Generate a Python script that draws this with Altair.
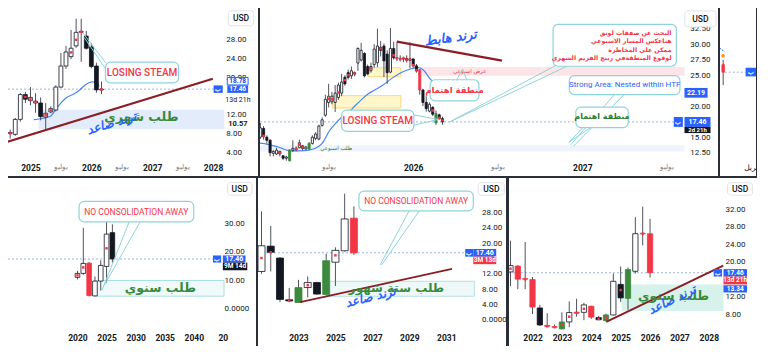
import json
import altair as alt
import pandas as pd

# ---------------- styles ----------------
FONT = "Roboto"
AR = "DejaVu Sans"
RED = "#f23645"
BLUE = "#2962ff"
GREEN = "#2e7d32"
TEAL = "#8fd3dc"
TREND = "#8b1e24"
EMA_C = "#4a86f5"
PLINE = "#9db3ea"
KEYS = ["w", "b", "r", "g"]
FILLS = ["#ffffff", "#131722", "#f23645", "#3b8a3e"]
STROKES = ["#131722", "#131722", "#f23645", "#3b8a3e"]
LAST = 17.46

# ================= DATA =================
# ---- Panel A : monthly ----
A_T = list(range(-4, 15))
A_O = [8.0, 7.8, 11.0, 16.3, 15.0, 14.5, 14.5, 11.5, 12.6, 13.0, 17.9, 22.4, 24.4, 26.7, 29.6, 28.8, 26.5, 22.4, 17.3]
A_H = [8.8, 11.3, 16.6, 16.9, 17.9, 16.6, 15.7, 14.5, 13.8, 18.3, 25.2, 26.7, 30.1, 32.5, 32.5, 29.9, 27.3, 23.1, 19.1]
A_L = [6.9, 7.5, 10.5, 14.5, 14.0, 12.4, 10.8, 8.7, 12.3, 12.7, 17.8, 21.8, 23.9, 26.3, 23.3, 25.9, 21.9, 16.7, 16.4]
A_C = [8.2, 11.0, 16.3, 15.3, 15.7, 14.9, 11.6, 12.3, 13.3, 17.9, 22.4, 25.4, 26.2, 29.6, 29.8, 26.2, 22.3, 17.3, 17.46]
A_K = ["w", "w", "w", "b", "w", "w", "b", "w", "w", "w", "w", "w", "w", "w", "w", "b", "b", "b", "w"]
A_D = [8.0, None, None, 15.8, 15.3, 14.7, None, 11.9, 12.9, None, None, None, 25.3, 28.0, 29.7, None, None, None, 17.4]
A_EMA_T = [0.65, 1.9, 3.85, 5.1, 6.1, 7.07, 8.35, 9.6, 10.9, 12.2, 13.2, 13.5]
A_EMA_V = [10.94, 11.14, 11.6, 13.28, 14.63, 15.64, 16.3, 17.19, 18.46, 19.0, 18.86, 18.0]
A_XT = [0, 6, 12, 18, 24, 30, 36]
A_XL = ["2025", "يوليو", "2026", "يوليو", "2027", "يوليو", "2028"]
A_XM = [6, 18, 30]
A_YT = [4, 8, 12, 20, 24, 28]

# ---- Panel B : weekly ----
B_T = list(range(-47, 10))
B_O = [15.0, 16.4, 15.0, 14.5, 12.4, 12.3, 12.7, 12.0, 11.6, 11.2, 12.9, 13.2, 13.3, 13.6, 13.1, 13.1, 14.0, 14.8, 14.7, 16.9,
       18.55, 20.6, 20.7, 20.6, 21.4, 22.1, 24.65, 25.4, 24.9, 25.4, 26.95, 27.45, 28.5, 26.4, 25.7, 26.7, 27.0, 29.5, 29.7, 28.4,
       25.5, 29.3, 27.8, 27.7, 27.6, 27.7, 27.4, 27.6, 26.5, 25.9, 22.6, 20.6, 19.2, 19.8, 17.3, 18.6, 18.0]
B_H = [17.3, 16.8, 15.3, 14.7, 12.9, 13.3, 12.8, 12.1, 12.0, 13.0, 14.5, 13.5, 14.6, 13.7, 13.6, 14.2, 15.3, 15.8, 17.0, 18.2,
       21.85, 23.6, 22.3, 23.4, 23.8, 25.2, 25.0, 25.9, 26.4, 25.6, 29.5, 30.2, 28.7, 26.7, 27.0, 30.0, 32.5, 30.5, 30.1, 29.0,
       32.6, 30.4, 30.4, 28.2, 28.0, 28.2, 30.3, 27.8, 26.8, 26.0, 22.8, 21.6, 20.6, 20.0, 19.3, 18.8, 18.3]
B_L = [14.7, 14.6, 14.0, 11.9, 11.9, 12.1, 11.9, 11.3, 11.2, 11.1, 12.6, 12.7, 13.2, 12.9, 13.0, 13.0, 13.8, 14.5, 14.5, 16.7,
       18.3, 19.8, 20.3, 19.05, 21.0, 21.6, 23.3, 24.3, 24.4, 24.8, 25.7, 27.2, 24.65, 25.0, 25.4, 26.2, 26.3, 28.0, 24.7, 23.6,
       25.3, 27.5, 27.3, 27.2, 27.1, 27.0, 26.1, 26.2, 25.4, 21.85, 20.0, 19.1, 19.0, 18.4, 17.0, 17.8, 17.0]
B_C = [16.5, 15.1, 14.5, 12.5, 12.7, 12.9, 12.3, 11.6, 11.8, 12.95, 13.2, 13.0, 14.1, 13.2, 13.4, 14.0, 15.0, 15.5, 16.8, 17.8,
       21.1, 21.6, 21.6, 22.1, 23.4, 23.9, 23.6, 24.65, 25.7, 25.2, 29.3, 29.0, 24.9, 25.2, 26.4, 29.2, 29.7, 29.0, 27.3, 25.4,
       29.3, 27.8, 27.7, 27.6, 27.7, 27.4, 27.6, 26.5, 25.7, 22.6, 20.6, 19.6, 20.3, 18.7, 18.8, 18.0, 17.46]
B_K = ["w", "b", "b", "b", "w", "w", "b", "b", "w", "g", "w", "b", "w", "b", "w", "g", "w", "w", "w", "w",
       "w", "w", "w", "w", "w", "w", "b", "b", "w", "b", "w", "w", "b", "b", "w", "w", "w", "b", "b", "b",
       "w", "b", "b", "b", "w", "b", "w", "b", "b", "r", "b", "b", "w", "b", "g", "b", "b"]
B_D = [None, 15.2, None, None, None, None, 12.5, None, None, None, None, 13.1, 13.8, 13.4, None, None, None, None, None, None,
       None, 21.2, 21.1, None, 22.2, None, 24.2, 25.0, None, 25.3, None, None, None, None, 26.1, None, None, 29.3, None, None,
       None, 28.2, 27.7, 27.6, 27.7, 27.5, 27.6, 26.6, 25.8, None, None, None, None, 19.3, None, 18.1, 17.7]
B_EMA_T = [-47.7, -44.7, -41.7, -37.8, -33.7, -30.7, -27.7, -25.8, -23.8, -21.8, -19.8, -17.8, -15.8, -13.8, -11.8, -9.3,
           -6.8, -3.8, -0.8, 1.7, 3.2, 5.2, 8.2, 9.8]
B_EMA_V = [14.06, 13.85, 13.45, 12.8, 12.84, 13.1, 14.2, 16.0, 17.27, 18.3, 19.05, 20.1, 21.1, 22.0, 22.6, 23.4,
           24.4, 25.4, 26.0, 26.2, 25.8, 24.4, 22.9, 22.2]
B_XT = [-26, 0, 26, 52, 78]
B_XL = ["يوليو", "2026", "يوليو", "2027", "يوليو"]
B_XM = [-26, 26, 78]
B_YT = [12.5, 15, 20, 25, 27.5, 30, 32.5]
B_BIG = ["البحث عن صفقات لونق", "هناعكس المسار الاسبوعي", "ممكن  على المخاطرة", "لوقوع المنطقةفي رينج الفريم الشهري"]
B_BIG_Y = [31.87, 30.5, 29.13, 27.8]

# ---- Panel C : narrow cut panel ----
C_T = [0]
C_O = [26.7]
C_H = [27.46]
C_L = [23.4]
C_C = [25.48]
C_K = ["r"]
C_D = [None]

# ---- Panel D : yearly ----
D_T = [2020, 2021, 2022, 2023, 2024, 2025, 2026]
D_O = [11.0, 12.4, 16.0, 4.5, 9.7, 14.85, 26.7]
D_H = [13.3, 28.4, 16.4, 11.3, 17.0, 32.8, 29.6]
D_L = [10.3, 11.9, 4.3, 4.3, 6.4, 9.1, 16.2]
D_C = [12.4, 15.9, 4.6, 9.7, 15.2, 26.2, 17.46]
D_K = ["w", "w", "r", "w", "w", "w", "b"]
D_D = [11.7, 14.5, None, None, None, 21.2, None]
D_XT = [2020, 2025, 2030, 2035, 2040, 2045]
D_XL = ["2020", "2025", "2030", "2035", "2040", "20"]
D_YT = [0, 10, 20, 30]

# ---- Panel E : six-month ----
E_T = [2021.0, 2021.5, 2022.0, 2022.5, 2023.0, 2023.5, 2024.0, 2024.5, 2025.0, 2025.5, 2026.0]
E_O = [12.6, 19.2, 16.1, 5.2, 4.5, 8.4, 9.7, 6.6, 15.0, 18.0, 26.5]
E_H = [28.3, 24.5, 16.3, 8.3, 10.4, 11.3, 9.9, 17.2, 18.9, 32.9, 29.6]
E_L = [12.0, 12.6, 4.6, 4.6, 4.4, 5.8, 6.5, 6.4, 8.8, 17.8, 16.9]
E_C = [19.3, 17.6, 5.3, 4.9, 8.4, 9.7, 6.7, 15.4, 18.1, 26.3, 17.46]
E_K = ["w", "b", "b", "b", "g", "w", "b", "g", "w", "w", "r"]
E_D = [16.1, 17.6, None, 5.0, None, 9.0, None, None, 16.8, None, None]
E_XT = [2023, 2025, 2027, 2029, 2031]
E_XL = ["2023", "2025", "2027", "2029", "2031"]
E_YT = [0, 4, 8, 12, 20, 24, 28]

# ---- Panel F : quarterly ----
F_T = [2021.25 + 0.25 * i for i in range(20)]
F_O = [17.65, 19.0, 16.1, 15.9, 9.4, 5.4, 5.1, 4.6, 6.2, 8.4, 8.4, 9.8, 7.2, 6.5, 7.8, 14.8, 11.6, 17.8, 26.4, 26.4]
F_H = [24.8, 19.2, 24.5, 16.5, 10.1, 8.2, 5.6, 8.4, 10.9, 11.5, 10.6, 9.9, 7.6, 8.1, 17.3, 18.9, 18.7, 30.2, 32.6, 29.8]
F_L = [14.4, 13.7, 13.7, 8.0, 5.3, 5.0, 4.8, 4.5, 5.0, 7.4, 6.6, 6.9, 6.6, 6.3, 7.7, 10.8, 9.0, 17.3, 23.7, 16.4]
F_C = [19.1, 16.0, 16.0, 9.6, 5.5, 5.2, 5.0, 6.2, 8.35, 8.2, 10.1, 7.3, 6.7, 7.8, 15.5, 11.7, 18.2, 26.4, 26.5, 17.46]
F_K = ["w", "r", "r", "r", "b", "r", "r", "g", "w", "r", "w", "r", "b", "g", "w", "b", "g", "w", "r", "r"]
F_D = [18.4, None, 16.0, None, None, 5.2, 5.0, 5.6, 7.4, 8.3, 9.2, None, 6.9, 7.2, None, 13.5, None, None, 26.4, None]
F_XT = [2022, 2023, 2024, 2025, 2026, 2027, 2028]
F_XL = ["2022", "2023", "2024", "2025", "2026", "2027", "2028"]
F_YT = [8, 12, 20, 24, 28, 32]


# ================= helpers =================
def S(dom):
    return alt.Scale(domain=dom, nice=False, zero=False)


def xaxis(vals, labels, months, off):
    expr = "%s[indexof(%s, datum.value)]" % (json.dumps(labels, ensure_ascii=False), json.dumps(vals))
    kw = dict(orient="bottom", values=vals, labelExpr=expr, offset=off, domain=False, ticks=False,
              grid=False, labelPadding=0, labelBaseline="top", labelFlush=False, labelOverlap=False,
              labelFont=FONT, title=None)
    if months:
        test = "indexof(%s, datum.value) >= 0" % json.dumps(months)
        kw["labelFontWeight"] = {"condition": {"test": test, "value": "normal"}, "value": "bold"}
        kw["labelFontSize"] = {"condition": {"test": test, "value": 6.5}, "value": 8.5}
        kw["labelColor"] = {"condition": {"test": test, "value": "#787b86"}, "value": "#131722"}
    else:
        kw["labelFontWeight"] = "bold"
        kw["labelFontSize"] = 8.5
        kw["labelColor"] = "#131722"
    return alt.Axis(**kw)


def yaxis(vals, off):
    return alt.Axis(orient="right", values=vals, offset=off,
                    labelExpr="datum.value == 0 ? '0.0000' : format(datum.value, '.2f')",
                    domain=False, ticks=False, grid=False, labelAlign="left", labelPadding=3,
                    labelFont=FONT, labelFontSize=8, labelColor="#131722", title=None,
                    labelFlush=False, labelOverlap=False)


class Panel:
    def __init__(self, xdom, ydom, W, H, axX=None, axY=None):
        self.sx, self.sy, self.W, self.H = S(xdom), S(ydom), W, H
        self.axX, self.axY = axX, axY
        self.layers = []

    def X(self, f):
        return alt.X(field=f, type="quantitative", scale=self.sx, axis=self.axX)

    def Y(self, f):
        return alt.Y(field=f, type="quantitative", scale=self.sy, axis=self.axY)

    def candles(self, t, O, H, L, C, k, d, hw, wick="#50535e"):
        df = pd.DataFrame(dict(t=t, O=O, H=H, L=L, C=C, k=k, d=d))
        base = alt.Chart(df)
        self.layers.append(base.mark_rule(color=wick, strokeWidth=1, clip=True).encode(
            x=self.X("t"), y=self.Y("L"), y2=alt.Y2("H")))
        self.layers.append(base.transform_calculate(
            xl="datum.t-%s" % hw, xr="datum.t+%s" % hw,
            lo="min(datum.O,datum.C)", hi="max(datum.O,datum.C)").mark_rect(strokeWidth=0.8, clip=True).encode(
            x=self.X("xl"), x2=alt.X2("xr"), y=self.Y("lo"), y2=alt.Y2("hi"),
            fill=alt.Fill("k:N", scale=alt.Scale(domain=KEYS, range=FILLS), legend=None),
            stroke=alt.Stroke("k:N", scale=alt.Scale(domain=KEYS, range=STROKES), legend=None)))
        self.layers.append(base.transform_filter("isValid(datum.d)").mark_square(
            size=6, color=RED, opacity=1, clip=True).encode(x=self.X("t"), y=self.Y("d")))

    def rects(self, x1, x2, y1, y2, **mk):
        df = pd.DataFrame(dict(a=x1, b=x2, c=y1, e=y2))
        self.layers.append(alt.Chart(df).mark_rect(clip=True, **mk).encode(
            x=self.X("a"), x2=alt.X2("b"), y=self.Y("c"), y2=alt.Y2("e")))

    def segs(self, x1, y1, x2, y2, **mk):
        df = pd.DataFrame(dict(a=x1, b=x2, c=y1, e=y2))
        self.layers.append(alt.Chart(df).mark_rule(clip=True, **mk).encode(
            x=self.X("a"), x2=alt.X2("b"), y=self.Y("c"), y2=alt.Y2("e")))

    def hline(self, x1, x2, y, **mk):
        df = pd.DataFrame(dict(a=x1, b=x2, c=y))
        self.layers.append(alt.Chart(df).mark_rule(clip=True, **mk).encode(
            x=self.X("a"), x2=alt.X2("b"), y=self.Y("c")))

    def line(self, xs, ys, **mk):
        df = pd.DataFrame(dict(a=xs, c=ys))
        self.layers.append(alt.Chart(df).mark_line(clip=True, **mk).encode(x=self.X("a"), y=self.Y("c")))

    def texts(self, xs, ys, ss, **mk):
        df = pd.DataFrame(dict(a=xs, c=ys, s=ss))
        self.layers.append(alt.Chart(df).mark_text(clip=True, **mk).encode(
            x=self.X("a"), y=self.Y("c"), text="s:N"))

    def callout(self, box, pointers, text_x, text_y, lines, **tmk):
        px1, py1, px2, py2 = pointers
        self.segs(px1, py1, px2, py2, color=TEAL, strokeWidth=1)
        self.rects([box[0]], [box[1]], [box[2]], [box[3]], fill="white", stroke=TEAL, strokeWidth=1.2, cornerRadius=5)
        self.texts(text_x, text_y, lines, **tmk)

    def tag(self, x1, x2, y1, y2, label, fill, color="white", stroke=None, size=7, weight="bold"):
        mk = dict(fill=fill)
        if stroke:
            mk.update(stroke=stroke, strokeWidth=1)
        self.rects([x1], [x2], [y1], [y2], **mk)
        self.texts([(x1 + x2) / 2], [(y1 + y2) / 2], [label], color=color, fontSize=size, font=FONT,
                   fontWeight=weight, align="center", baseline="middle")

    def usd(self, x1, x2, y1, y2):
        self.rects([x1], [x2], [y1], [y2], fill="white", stroke="#e0e3eb", strokeWidth=1, cornerRadius=3)
        self.texts([(x1 + x2) / 2], [(y1 + y2) / 2], ["USD"], color="#131722", fontSize=8.5, font=FONT,
                   fontWeight=500, align="center", baseline="middle")

    def chart(self):
        return alt.layer(*self.layers).properties(width=self.W, height=self.H)


# ================= Panel A =================
A = Panel([-4.43, 44.85], [-1.1, 34.8], 250, 168, xaxis(A_XT, A_XL, A_XM, -12.3), yaxis(A_YT, -35.2))
A.rects([1.6], [38.2], [8.9], [13.07], fill="#e3ecfb")
A.hline([-4.43], [36.1], [LAST], color=PLINE, strokeDash=[2, 2], strokeWidth=1)
A.line(A_EMA_T, A_EMA_V, color=EMA_C, strokeWidth=1.2, interpolate="monotone")
A.candles(A_T, A_O, A_H, A_L, A_C, A_K, A_D, 0.38)
A.segs([-4.49], [6.22], [35.95], [19.67], color=TREND, strokeWidth=2.2)
A.texts([21.85], [11.5], ["طلب شهري"], color="#3a8a3a", fontSize=12.5, font=AR, fontWeight="bold")
A.texts([16.0], [10.2], ["ترند صاعد"], color=BLUE, fontSize=12, font=AR, fontWeight="bold",
        fontStyle="italic", angle=343)
A.callout([14.78, 29.2, 18.8, 23.24], ([10.3, 10.6], [29.5, 28.5], [14.9, 14.8], [23.0, 21.8]),
          [22.0], [21.0], ["LOSING STEAM"], color=RED, fontSize=10, font=FONT, fontWeight=500)
A.tag(36.1, 37.9, 16.66, 18.26, "ب", BLUE, size=6)
A.tag(38.8, 42.9, 18.36, 19.96, "18.78", "white", color="#1848cc", stroke=BLUE, size=6.5)
A.tag(38.8, 42.9, 16.66, 18.26, "17.46", BLUE, size=6.5)
A.texts([40.9], [15.2], ["13d 21h"], color="#131722", fontSize=7, font=FONT, align="center")
A.texts([40.9], [10.57], ["10.57"], color="#131722", fontSize=7.5, font=FONT, fontWeight="bold",
        align="center", dy=3)
A.usd(39.0, 44.0, 31.0, 34.2)

# ================= Panel B =================
B = Panel([-47.1, 93.7], [8.74, 35.83], 458, 168, xaxis(B_XT, B_XL, B_XM, -12.3), yaxis(B_YT, -31.2))
B.rects([-47.7], [83.4], [12.7], [13.7], fill="#eef3fc")
B.rects([2.2], [83.4], [24.9], [26.3], fill="#fde4e6")
B.rects([-13.8, -24.8], [-3.8, -3.8], [24.75, 19.7], [26.2, 21.7], fill="#fff6cc", stroke="#f5dc7a", strokeWidth=1)
B.hline([-47.1], [80.1], [LAST], color=PLINE, strokeDash=[2, 2], strokeWidth=1)
B.line(B_EMA_T, B_EMA_V, color=EMA_C, strokeWidth=1.2, interpolate="monotone")
B.candles(B_T, B_O, B_H, B_L, B_C, B_K, B_D, 0.33)
B.segs([-5], [30.4], [27.3], [27.35], color=TREND, strokeWidth=2.2)
B.texts([11.5], [31.0], ["ترند هابط"], color=BLUE, fontSize=13, font=AR, fontWeight="bold",
        fontStyle="italic", angle=352)
B.texts([-23.7], [13.2], ["طلب اسبوعي"], color=GREEN, fontSize=5.5, font=AR)
B.texts([17.4], [25.6], ["عرض اسبوعي"], color=RED, fontSize=5.5, font=AR)
B.callout([-22.0, 0.2, 15.94, 19.35], ([0.0, 0.0], [18.6, 16.9], [7.7, 7.7], [17.87, 17.87]),
          [-10.9], [17.65], ["LOSING STEAM"], color=RED, fontSize=10, font=FONT, fontWeight=500)
B.callout([5.2, 20.2, 20.87, 24.26], ([13.4, 16.4], [24.3, 24.3], [15.2, 15.2], [26.0, 26.0]),
          [12.7], [22.6], ["منطقة اهتمام"], color=RED, fontSize=8.5, font=AR, fontWeight="bold")
B.callout([43.0, 80.9, 26.44, 33.2], ([11.0, 11.0], [17.4, 17.4], [43.6, 47.5], [26.5, 26.5]),
          [79.4] * 4, B_BIG_Y, B_BIG, color=RED, fontSize=6.2, font=AR, fontWeight="bold", align="right")
B.callout([48.0, 82.0, 21.87, 24.92], ([61.9, 64.9], [21.9, 21.9], [48.4, 49.2], [13.76, 13.5]),
          [65.0], [23.4], ["Strong Area: Nested within HTF"], color=BLUE, fontSize=8, font=FONT)
B.callout([50.0, 66.1, 16.55, 19.85], ([52.3, 54.7], [16.6, 16.6], [47.9, 47.9], [14.2, 14.2]),
          [58.0], [18.2], ["منطقة اهتمام"], color=GREEN, fontSize=8, font=AR, fontWeight="bold")
B.tag(83.4, 90.5, 21.37, 22.94, "22.19", BLUE)
B.tag(80.1, 82.9, 16.66, 18.26, "ب", BLUE, size=6)
B.tag(83.4, 91.4, 16.66, 18.26, "17.46", BLUE)
B.tag(83.4, 91.4, 15.66, 16.66, "2d 21h", "#131722", size=6)
B.usd(83.5, 93.1, 32.78, 35.37)

# ================= Panel C =================
C = Panel([-1.0, 10.4], [8.74, 35.83], 36, 168)
C.hline([0.5], [7.1], [25.48], color=PLINE, strokeDash=[2, 2], strokeWidth=1)
C.segs([-1.2], [29.4], [0.4], [28.8], color=BLUE, strokeDash=[2, 1], strokeWidth=1)
C.candles(C_T, C_O, C_H, C_L, C_C, C_K, C_D, 0.4)
C.texts([0], [28.1], ["●"], color="#ff9800", fontSize=8)
C.tag(7.1, 10.6, 24.8, 26.2, "ب", BLUE, size=6)
C.texts([9.2], [10.0], ["أبريل"], color="#131722", fontSize=7.5, font=AR)

# ================= Panel D =================
D = Panel([2008.05, 2050.7], [-13.1, 45.9], 248, 168, xaxis(D_XT, D_XL, [], -12.3), yaxis(D_YT, -34.9))
D.rects([2023.05], [2045.2], [4.4], [9.9], fill="#f1fafa", stroke="#a9dfe5", strokeWidth=1)
D.hline([2008.05], [2043.3], [LAST], color=PLINE, strokeDash=[2, 2], strokeWidth=1)
D.candles(D_T, D_O, D_H, D_L, D_C, D_K, D_D, 0.4)
D.texts([2034.25], [7.25], ["طلب سنوي"], color="#3a8a3a", fontSize=12.5, font=AR, fontWeight="bold")
D.callout([2020.27, 2040.0, 30.5, 37.7], ([2028.9, 2030.8], [30.6, 30.6], [2024.2, 2024.6], [6.4, 8.2]),
          [2030.1], [34.1], ["NO CONSOLIDATION AWAY"], color=RED, fontSize=8.5, font=FONT)
D.tag(2043.3, 2044.7, 16.2, 18.7, "ب", BLUE, size=6)
D.tag(2045.0, 2048.9, 16.2, 18.7, "17.46", BLUE)
D.tag(2045.0, 2049.2, 13.5, 16.2, "9M 14d", "#131722", size=6.5)
D.usd(2045.8, 2050.0, 39.9, 44.3)

# ================= Panel E =================
E = Panel([2020.81, 2034.23], [-6.86, 36.99], 248, 168, xaxis(E_XT, E_XL, [], -12.3), yaxis(E_YT, -27.4))
E.rects([2024.5], [2032.52], [6.12], [10.04], fill="#eef8f8", stroke="#b5e0e6", strokeWidth=1)
E.hline([2020.81], [2032.02], [LAST], color=PLINE, strokeDash=[2, 2], strokeWidth=1)
E.candles(E_T, E_O, E_H, E_L, E_C, E_K, E_D, 0.19)
E.segs([2023.09], [4.58], [2031.31], [13.3], color=TREND, strokeWidth=1.8)
E.texts([2028.3], [8.3], ["طلب ستة شهور"], color="#3a8a3a", fontSize=12, font=AR, fontWeight="bold")
E.texts([2026.9], [5.9], ["ترند صاعد"], color=BLUE, fontSize=12, font=AR, fontWeight="bold",
        fontStyle="italic", angle=346)
E.callout([2026.27, 2032.46, 28.42, 33.56], ([2029.0, 2029.55], [28.5, 28.5], [2027.42, 2027.5], [14.3, 14.3]),
          [2029.37], [31.0], ["NO CONSOLIDATION AWAY"], color=RED, fontSize=8.5, font=FONT)
E.tag(2032.02, 2032.46, 16.46, 18.46, "ب", BLUE, size=6)
E.tag(2032.46, 2033.7, 16.46, 18.46, "17.46", BLUE)
E.tag(2032.46, 2033.7, 14.5, 16.46, "3M 13d", RED, size=6.5)
E.usd(2032.73, 2034.14, 32.5, 35.77)

# ================= Panel F =================
F = Panel([2021.2, 2029.64], [0.69, 39.16], 248, 168, xaxis(F_XT, F_XL, [], -12.3), yaxis(F_YT, -35.0))
F.rects([2025.03], [2028.5], [8.7], [14.8], fill="#d6f2ea")
F.hline([2021.2], [2028.17], [LAST], color=PLINE, strokeDash=[2, 2], strokeWidth=1)
F.candles(F_T, F_O, F_H, F_L, F_C, F_K, F_D, 0.09)
F.segs([2024.51], [6.22], [2028.49], [19.1], color=TREND, strokeWidth=2)
F.texts([2026.8], [12.1], ["طلب سنوي"], color="#3a8a3a", fontSize=12.5, font=AR, fontWeight="bold")
F.texts([2026.75], [11.3], ["ترند صاعد"], color=BLUE, fontSize=12, font=AR, fontWeight="bold",
        fontStyle="italic", angle=334)
F.tag(2028.17, 2028.45, 16.6, 18.3, "ب", BLUE, size=6)
F.tag(2028.5, 2029.3, 16.6, 18.3, "17.46", BLUE, size=6.5)
F.tag(2028.5, 2029.3, 14.8, 16.6, "13d 21h", RED, size=6.5)
F.tag(2028.5, 2029.3, 12.95, 14.6, "13.34", BLUE, size=6.5)
F.usd(2028.64, 2029.49, 35.22, 38.08)

# ================= assemble =================
top = alt.hconcat(A.chart(), B.chart(), C.chart(), spacing=2).resolve_scale(x="independent", y="independent")
bottom = alt.hconcat(D.chart(), E.chart(), F.chart(), spacing=2).resolve_scale(x="independent", y="independent")
chart = alt.vconcat(top, bottom, spacing=2).resolve_scale(x="independent", y="independent").properties(
    padding=0, background="#2a2e39").configure_view(stroke=None, fill="white")

chart.save("out.html", embed_options={"renderer": "svg", "actions": False})
